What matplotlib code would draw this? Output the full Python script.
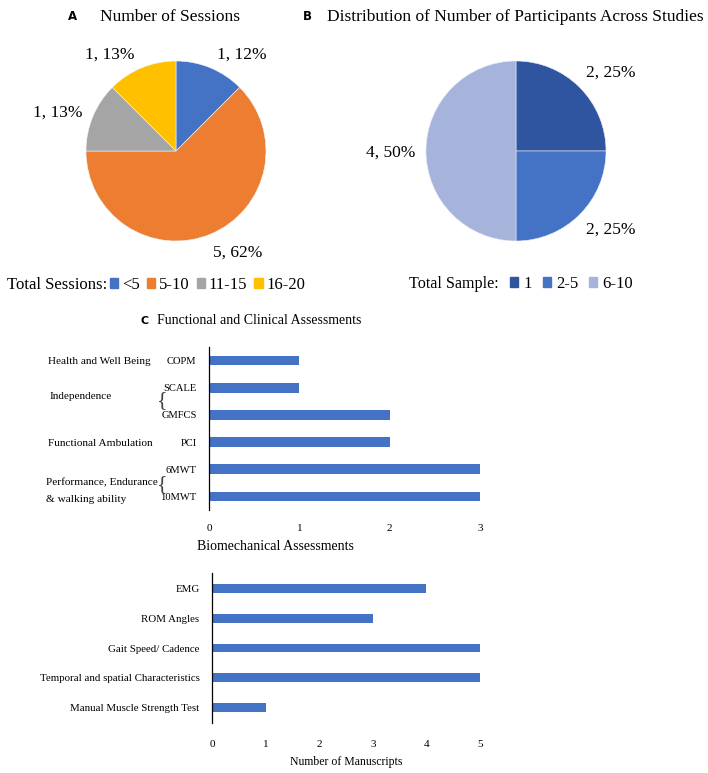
import matplotlib
matplotlib.use("Agg")
import matplotlib.pyplot as plt
from matplotlib.patches import Patch

plt.rcParams['font.family'] = 'Liberation Serif'

W, H = 708, 773

# ---- data ----
session_labels = ["<5", "5-10", "11-15", "16-20"]
session_counts = [1, 5, 1, 1]
session_text = ["1, 12%", "5, 62%", "1, 13%", "1, 13%"]
session_colors = ["#4472C4", "#ED7D31", "#A5A5A5", "#FFC000"]

sample_labels = ["1", "2-5", "6-10"]
sample_counts = [2, 2, 4]
sample_text = ["2, 25%", "2, 25%", "4, 50%"]
sample_colors = ["#2F54A0", "#4472C4", "#A6B4DC"]

func_tests = ["COPM", "SCALE", "GMFCS", "PCI", "6MWT", "10MWT"]
func_counts = [1, 1, 2, 2, 3, 3]
func_ticks = [0, 1, 2, 3]

bio_tests = ["EMG", "ROM Angles", "Gait Speed/ Cadence",
             "Temporal and spatial Characteristics", "Manual Muscle Strength Test"]
bio_counts = [4, 3, 5, 5, 1]
bio_ticks = [0, 1, 2, 3, 4, 5]

bar_color = "#4472C4"


def px_axes(fig, x0, y0, x1, y1):
    # pixel box (top-left origin) -> figure axes
    return fig.add_axes([x0 / W, 1 - y1 / H, (x1 - x0) / W, (y1 - y0) / H])


def ftext(fig, x, y, s, **kw):
    fig.text(x / W, 1 - y / H, s, **kw)


fig = plt.figure(figsize=(W / 100, H / 100), dpi=100)

# ---- A: pie ----
axA = px_axes(fig, 86, 61, 266, 241)
axA.pie(session_counts, colors=session_colors, startangle=90, counterclock=False,
        radius=1, wedgeprops=dict(linewidth=0.4, edgecolor="#f4f4f4"))
axA.set_xlim(-1, 1)
axA.set_ylim(-1, 1)
ftext(fig, 72, 17, "A", fontsize=8.5, fontweight="bold", family="DejaVu Sans", ha="center", va="center")
ftext(fig, 170, 17, "Number of Sessions", fontsize=12.5, ha="center", va="center")
for s, (x, y) in zip(session_text, [(242, 55), (238, 253), (58, 113), (110, 55)]):
    ftext(fig, x, y, s, fontsize=12.5, ha="center", va="center")
ftext(fig, 7, 285, "Total Sessions:", fontsize=12, ha="left", va="center")
fig.legend([Patch(color=c) for c in session_colors], session_labels, ncol=4,
           loc="center left", bbox_to_anchor=(110 / W, 1 - 285 / H), frameon=False,
           fontsize=12, handlelength=0.5, handleheight=0.5, handletextpad=0.2,
           columnspacing=0.45, borderpad=0, borderaxespad=0)

# ---- B: pie ----
axB = px_axes(fig, 426, 61, 606, 241)
axB.pie(sample_counts, colors=sample_colors, startangle=90, counterclock=False,
        radius=1, wedgeprops=dict(linewidth=0.4, edgecolor="#e8ecf6"))
axB.set_xlim(-1, 1)
axB.set_ylim(-1, 1)
ftext(fig, 307, 17, "B", fontsize=8.5, fontweight="bold", family="DejaVu Sans", ha="center", va="center")
ftext(fig, 515, 17, "Distribution of Number of Participants Across Studies", fontsize=12.5,
      ha="center", va="center")
for s, (x, y) in zip(sample_text, [(611, 73), (611, 230), (391, 153)]):
    ftext(fig, x, y, s, fontsize=12.5, ha="center", va="center")
ftext(fig, 409, 284, "Total Sample:", fontsize=11.6, ha="left", va="center")
fig.legend([Patch(color=c) for c in sample_colors], sample_labels, ncol=3,
           loc="center left", bbox_to_anchor=(510 / W, 1 - 284 / H), frameon=False,
           fontsize=12, handlelength=0.5, handleheight=0.5, handletextpad=0.3,
           columnspacing=0.65, borderpad=0, borderaxespad=0)

# ---- C: functional bars ----
axC = px_axes(fig, 209, 347, 480, 510)
axC.barh(range(len(func_tests)), func_counts, height=0.36, color=bar_color)
axC.set_ylim(len(func_tests) - 0.5, -0.5)
axC.set_xlim(0, 3)
axC.set_yticks(range(len(func_tests)))
axC.set_yticklabels(func_tests, fontsize=7.6)
axC.set_xticks(func_ticks)
axC.set_xticklabels([str(t) for t in func_ticks], fontsize=8)
axC.tick_params(length=0, pad=9)
axC.tick_params(axis="x", pad=10)
for sp in ["top", "right", "bottom"]:
    axC.spines[sp].set_visible(False)
axC.spines["left"].set_linewidth(0.9)
ftext(fig, 145, 321, "C", fontsize=8, fontweight="bold", family="DejaVu Sans", ha="center", va="center")
ftext(fig, 259, 321, "Functional and Clinical Assessments", fontsize=10, ha="center", va="center")
lab_kw = dict(fontsize=8.1, ha="left", va="center")
ftext(fig, 48, 362, "Health and Well Being", **lab_kw)
ftext(fig, 50, 397, "Independence", **lab_kw)
ftext(fig, 48, 444, "Functional Ambulation", **lab_kw)
ftext(fig, 46, 483, "Performance, Endurance", **lab_kw)
ftext(fig, 46, 499, "& walking ability", **lab_kw)
ftext(fig, 162, 401, "{", fontsize=16, ha="center", va="center", color="#444444")
ftext(fig, 162, 485, "{", fontsize=16, ha="center", va="center", color="#444444")

# ---- D: biomechanical bars ----
axD = px_axes(fig, 212, 573, 480, 723)
axD.barh(range(len(bio_tests)), bio_counts, height=0.29, color=bar_color)
axD.set_ylim(len(bio_tests) - 0.47, -0.53)
axD.set_xlim(0, 5)
axD.set_yticks(range(len(bio_tests)))
axD.set_yticklabels(bio_tests, fontsize=7.8)
axD.set_xticks(bio_ticks)
axD.set_xticklabels([str(t) for t in bio_ticks], fontsize=8)
axD.tick_params(length=0, pad=9)
axD.tick_params(axis="x", pad=12)
for sp in ["top", "right", "bottom"]:
    axD.spines[sp].set_visible(False)
axD.spines["left"].set_linewidth(0.9)
ftext(fig, 275, 547, "Biomechanical Assessments", fontsize=10, ha="center", va="center")
axD.set_xlabel("Number of Manuscripts", fontsize=8.5, labelpad=5)

fig.savefig("out.png", dpi=100)
